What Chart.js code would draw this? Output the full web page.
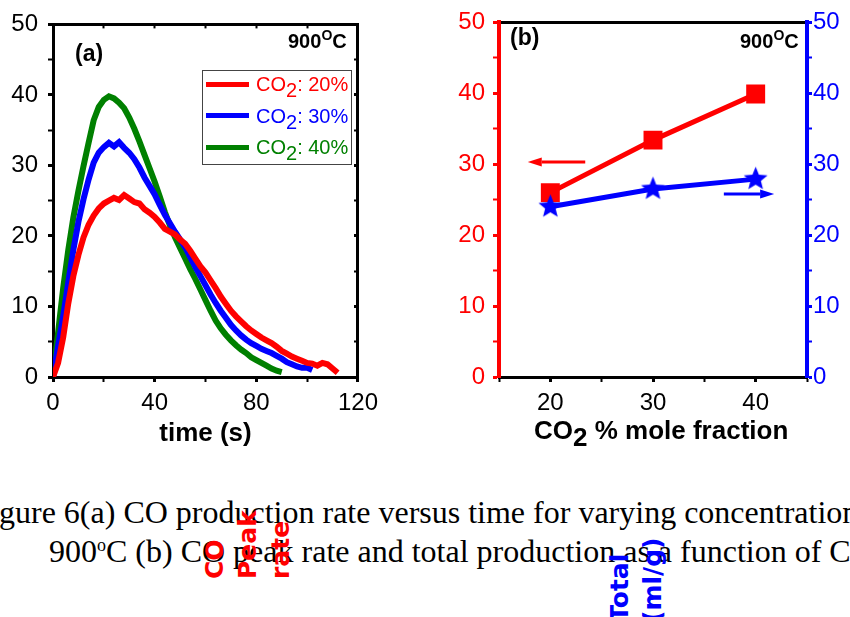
<!DOCTYPE html>
<html>
<head>
<meta charset="utf-8">
<script src="https://cdn.jsdelivr.net/npm/chart.js@4.4.1/dist/chart.umd.min.js"></script>
<style>
body { margin:0; width:850px; height:617px; overflow:hidden; background:#fff; position:relative;
       font-family:"Liberation Sans", Arial, sans-serif; }
.abs { position:absolute; white-space:nowrap; line-height:1; }
sup, sub { line-height:0; }
#wrapA { position:absolute; left:0; top:0; }
#wrapB { position:absolute; left:440px; top:0; }
.tag { font-weight:bold; font-size:23px; }
.temp { font-weight:bold; font-size:20px; }
.temp sup { font-size:14px; vertical-align:8px; }
#legendA { position:absolute; left:202px; top:70px; width:148px; height:93px; border:1px solid #444; }
.lg-line { position:absolute; left:3px; width:43px; height:5px; }
.lg-text { position:absolute; left:53px; font-size:20px; line-height:1; white-space:nowrap; }
.lg-text sub { font-size:20px; vertical-align:-6px; }
.xtitle { font-weight:bold; font-size:26px; }
.xtitle sub { font-size:26px; vertical-align:-7px; }
.cap { font-family:"Liberation Serif","Times New Roman",serif; font-size:32px; }
.cap sup { font-size:18px; vertical-align:11px; }
.rot { position:absolute; transform-origin:0 0; transform:rotate(-90deg); white-space:pre;
       font-family:"DejaVu Sans", sans-serif; font-weight:bold; font-size:25px; line-height:33px; }
</style>
</head>
<body>
<div id="wrapA"><canvas id="chartA" width="385" height="449"></canvas></div>
<div id="wrapB"><canvas id="chartB" width="410" height="449"></canvas></div>

<div class="abs tag" style="left:75px;top:42px;">(a)</div>
<div class="abs temp" style="left:288px;top:31px;">900<sup>O</sup>C</div>
<div id="legendA"></div>

<div class="abs tag" style="left:510px;top:26px;">(b)</div>
<div class="abs temp" style="left:740px;top:31px;">900<sup>O</sup>C</div>
<div class="abs xtitle" style="left:534px;top:417px;">CO<sub>2</sub> % mole fraction</div>

<div class="abs cap" style="left:-1px;top:496px;">gure 6(a) CO production rate versus time for varying concentration</div>
<div class="abs cap" style="left:49px;top:535px;">900<sup>o</sup>C (b) CO peak rate and total production as a function of C</div>

<div class="rot" style="left:198px;top:579px;color:#ff0000;">CO
Peak
rate</div>
<div class="rot" style="left:603px;top:622px;color:#0000ff;">Total
(ml/g)</div>

<script>
// panel (a): CO production rate vs time, read every 2 s
var timeS = [0,2,4,6,8,10,12,14,16,18,20,22,24,26,28,30,32,34,36,38,
    40,42,44,46,48,50,52,54,56,58,60,62,64,66,68,70,72,74,76,78,
    80,82,84,86,88,90,92,94,96,98,100,102,104,106,108,110,112];

var rate20 = [0,2.0,5.6,10.4,14.3,17.3,19.8,21.6,22.9,23.9,24.6,25.0,25.4,25.1,25.8,25.3,24.8,24.6,23.8,23.3,
    22.7,21.9,21.0,20.6,20.2,19.5,18.9,17.9,16.8,15.7,14.8,13.7,12.6,11.4,10.4,9.4,8.6,7.9,7.2,6.6,
    6.1,5.6,5.2,4.8,4.3,3.7,3.3,2.9,2.6,2.3,2.0,1.9,1.6,2.0,1.8,1.2,0.6];

var rate30 = [0,4.4,8.6,13.4,18.0,22.0,25.2,28.0,30.4,31.8,32.6,33.2,32.7,33.3,32.5,31.8,30.9,29.7,28.3,27.1,
    25.9,24.4,23.0,21.8,20.6,19.5,18.4,17.0,15.6,14.3,13.0,11.7,10.5,9.4,8.4,7.4,6.6,5.9,5.3,4.8,
    4.4,4.0,3.7,3.4,3.0,2.6,2.1,1.8,1.5,1.3,1.3,1.0];

var rate40 = [0,6.3,12.6,18.0,22.6,26.4,29.9,33.2,36.4,38.3,39.3,39.8,39.5,38.9,38.1,36.8,35.2,33.4,31.5,29.6,
    27.7,25.6,23.4,21.5,19.8,18.3,16.8,15.3,13.9,12.4,10.9,9.4,8.0,6.9,6.0,5.2,4.5,3.9,3.4,2.8,
    2.4,2.0,1.6,1.2,0.9,0.7];

var seriesNames = ['20%', '30%', '40%'];
var seriesColors = ['#ff0000', '#0000ff', '#008000'];

// panel (b): peak rate and total production vs CO2 fraction
var co2Pct = [20, 30, 40];
var peakRate = [26.0, 33.4, 39.9];
var totalProd = [24.0, 26.5, 27.9];

// arrows pointing at the axis each series belongs to
var arrowNotes = [
    {axis: 'y',  y: 30.3, from: 23.4, to: 17.8, color: '#ff0000'},
    {axis: 'y1', y: 25.8, from: 36.9, to: 41.8, color: '#0000ff'}
];

var sansFam = '"Liberation Sans", Arial, sans-serif';
var tickFont = {family: sansFam, size: 24};

function pts(ys) {
    return ys.map(function(y, i) { return {x: timeS[i], y: y}; });
}
function majorWidth(step) {
    return function(c) { return (c.tick && c.tick.value % step === 0) ? 3 : 2; };
}
function labelEvery(step) {
    return function(v) { return v % step === 0 ? v : ''; };
}

var chartA = new Chart(document.getElementById('chartA'), {
    type: 'line',
    data: {
        datasets: [rate20, rate30, rate40].map(function(d, i) {
            return {
                label: 'CO₂: ' + seriesNames[i],
                data: pts(d),
                borderColor: seriesColors[i],
                borderWidth: 6,
                pointRadius: 0,
                tension: 0
            };
        })
    },
    options: {
        responsive: false,
        animation: false,
        layout: {padding: {top: 16, right: 24, left: 0, bottom: 0}},
        plugins: {legend: {display: false}, tooltip: {enabled: false}},
        scales: {
            x: {
                type: 'linear', position: 'bottom', min: 0, max: 120,
                ticks: {stepSize: 20, autoSkip: false, maxRotation: 0, font: tickFont, color: '#000',
                        padding: 7, callback: labelEvery(40)},
                grid: {drawOnChartArea: false, tickLength: 5, tickColor: '#000', tickWidth: majorWidth(40)},
                border: {color: '#000', width: 3},
                title: {display: true, text: 'time (s)', color: '#000', padding: 0,
                        font: {family: sansFam, size: 26, weight: 'bold'}},
                afterFit: function(s) { s.height = 72; }
            },
            xTop: {
                type: 'linear', position: 'top', min: 0, max: 120,
                ticks: {display: false, stepSize: 20},
                grid: {drawOnChartArea: false, tickLength: -4, tickColor: '#000', tickWidth: 2},
                border: {color: '#000', width: 3},
                afterFit: function(s) { s.height = 0; }
            },
            y: {
                type: 'linear', position: 'left', min: 0, max: 50,
                ticks: {stepSize: 5, autoSkip: false, font: tickFont, color: '#000', padding: 10,
                        callback: labelEvery(10)},
                grid: {drawOnChartArea: false, tickLength: 5, tickColor: '#000', tickWidth: majorWidth(10)},
                border: {color: '#000', width: 3},
                afterFit: function(s) { s.width = 53; }
            },
            yRight: {
                type: 'linear', position: 'right', min: 0, max: 50,
                ticks: {display: false, stepSize: 5},
                grid: {drawOnChartArea: false, tickLength: -4, tickColor: '#000', tickWidth: majorWidth(10)},
                border: {color: '#000', width: 3},
                afterFit: function(s) { s.width = 0; }
            }
        }
    }
});

// legend box for panel (a)
var legendA = document.getElementById('legendA');
chartA.data.datasets.forEach(function(ds, i) {
    var cy = 13 + i * 31.5;
    var line = document.createElement('div');
    line.className = 'lg-line';
    line.style.top = (cy - 2.5) + 'px';
    line.style.background = ds.borderColor;
    legendA.appendChild(line);
    var txt = document.createElement('div');
    txt.className = 'lg-text';
    txt.style.top = (cy - 10) + 'px';
    txt.style.color = ds.borderColor;
    txt.innerHTML = 'CO<sub>2</sub>: ' + seriesNames[i];
    legendA.appendChild(txt);
});

function starImage(color, R, r) {
    var c = document.createElement('canvas');
    var size = Math.ceil(R * 2) + 2;
    c.width = size; c.height = size;
    var g = c.getContext('2d');
    g.fillStyle = color;
    g.beginPath();
    for (var i = 0; i < 10; i++) {
        var rad = (i % 2) ? r : R;
        var a = -Math.PI / 2 + i * Math.PI / 5;
        g.lineTo(size / 2 + rad * Math.cos(a), size / 2 + rad * Math.sin(a));
    }
    g.closePath();
    g.fill();
    return c;
}

var arrowPlugin = {
    id: 'arrows',
    afterDatasetsDraw: function(chart) {
        var ctx = chart.ctx;
        var xs = chart.scales.x;
        arrowNotes.forEach(function(a) {
            var ys = chart.scales[a.axis];
            var x0 = xs.getPixelForValue(a.from);
            var x1 = xs.getPixelForValue(a.to);
            var y = ys.getPixelForValue(a.y);
            var dir = Math.sign(x1 - x0);
            var head = 14;
            ctx.save();
            ctx.strokeStyle = a.color;
            ctx.fillStyle = a.color;
            ctx.lineWidth = 3;
            ctx.beginPath();
            ctx.moveTo(x0, y);
            ctx.lineTo(x1 - dir * head, y);
            ctx.stroke();
            ctx.beginPath();
            ctx.moveTo(x1, y);
            ctx.lineTo(x1 - dir * head, y - 4.5);
            ctx.lineTo(x1 - dir * head, y + 4.5);
            ctx.closePath();
            ctx.fill();
            ctx.restore();
        });
    }
};

new Chart(document.getElementById('chartB'), {
    type: 'line',
    data: {
        datasets: [
            {
                label: 'Total',
                data: co2Pct.map(function(x, i) { return {x: x, y: totalProd[i]}; }),
                yAxisID: 'y1',
                borderColor: '#0000ff',
                backgroundColor: '#0000ff',
                borderWidth: 5,
                pointStyle: starImage('#0000ff', 12.5, 5.5),
                tension: 0
            },
            {
                label: 'CO Peak rate',
                data: co2Pct.map(function(x, i) { return {x: x, y: peakRate[i]}; }),
                yAxisID: 'y',
                borderColor: '#ff0000',
                backgroundColor: '#ff0000',
                borderWidth: 5,
                pointStyle: 'rect',
                pointRadius: 13.4,
                pointBorderWidth: 0,
                tension: 0
            }
        ]
    },
    options: {
        responsive: false,
        animation: false,
        layout: {padding: {top: 16, right: 0, left: 0, bottom: 0}},
        plugins: {legend: {display: false}, tooltip: {enabled: false}},
        scales: {
            x: {
                type: 'linear', position: 'bottom', min: 15, max: 45,
                ticks: {stepSize: 5, autoSkip: false, maxRotation: 0, font: tickFont, color: '#000',
                        padding: 7, callback: function(v) { return (v % 10 === 0) ? v : ''; }},
                grid: {drawOnChartArea: false, tickLength: 5, tickColor: '#000', tickWidth: majorWidth(10)},
                border: {color: '#000', width: 3},
                afterFit: function(s) { s.height = 72; }
            },
            xTop: {
                type: 'linear', position: 'top', min: 15, max: 45,
                ticks: {display: false},
                grid: {display: false},
                border: {color: '#000', width: 3},
                afterFit: function(s) { s.height = 0; }
            },
            y: {
                type: 'linear', position: 'left', min: 0, max: 50,
                ticks: {stepSize: 5, autoSkip: false, font: tickFont, color: '#ff0000', padding: 8,
                        callback: labelEvery(10)},
                grid: {drawOnChartArea: false, tickLength: 6, tickColor: '#ff0000', tickWidth: majorWidth(10)},
                border: {color: '#ff0000', width: 4},
                afterFit: function(s) { s.width = 59; }
            },
            y1: {
                type: 'linear', position: 'right', min: 0, max: 50,
                ticks: {stepSize: 5, autoSkip: false, font: tickFont, color: '#0000ff', padding: 1,
                        callback: labelEvery(10)},
                grid: {drawOnChartArea: false, tickLength: 5, tickColor: '#0000ff', tickWidth: majorWidth(10)},
                border: {color: '#0000ff', width: 4},
                afterFit: function(s) { s.width = 43; }
            }
        }
    },
    plugins: [arrowPlugin]
});
</script>
</body>
</html>
